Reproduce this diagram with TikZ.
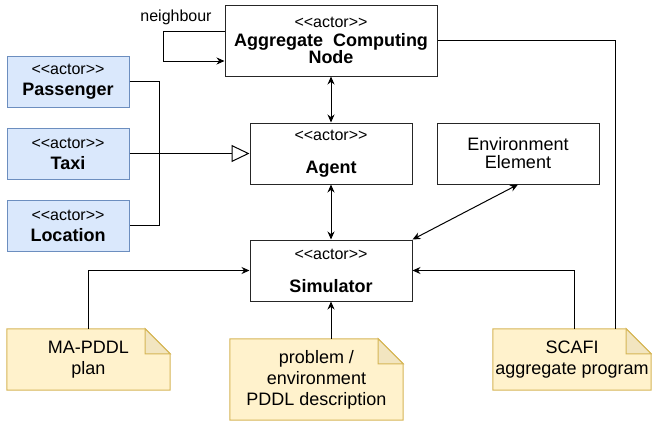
\documentclass[tikz,border=0pt]{standalone}
\usepackage{fontspec}
\setmainfont{Liberation Sans}
\usepackage{tikz}
\usetikzlibrary{arrows,arrows.meta,positioning,backgrounds}
\definecolor{blueFill}{RGB}{218,232,252}
\definecolor{blueLine}{RGB}{108,142,191}
\definecolor{noteFill}{RGB}{255,242,204}
\definecolor{noteLine}{RGB}{214,182,86}
\definecolor{noteFold}{RGB}{242,229,192}
\newcommand{\actortag}{{\fontsize{16}{19}\selectfont <\kern0pt<actor>\kern0pt>}}
\tikzstyle{actor} = [rectangle, draw=black!85, line width=1pt, fill=white, align=center, inner sep=0pt, font=\fontsize{18}{21}\selectfont]
\tikzstyle{bigactor} = [actor, minimum width=162pt, minimum height=61pt]
\tikzstyle{blueactor} = [actor, draw=blueLine, fill=blueFill, minimum width=122pt, minimum height=51pt]
\tikzstyle{note} = [draw=none, fill=none, align=center, inner sep=0pt, font=\fontsize{18}{21}\selectfont]
\tikzstyle{notebg} = [fill=noteFill, draw=noteLine, line width=1pt]
\tikzstyle{textonly} = [draw=none, fill=none, inner sep=0pt, font=\fontsize{16}{19}\selectfont]
\tikzstyle{tedge}  = [draw, line width=1pt, >={Stealth[length=8pt,width=7pt]}, ->]
\tikzstyle{dedge}  = [tedge, <->]
\tikzstyle{nedge}  = [draw, line width=1pt]
\tikzstyle{iedge}  = [draw, line width=1pt, -{Triangle[open,length=18pt,width=17pt]}]

\begin{document}
\begin{tikzpicture}[x=1pt, y=-1pt]
\useasboundingbox (0,0) rectangle (652,423);
%actors=============================

\node[actor, minimum width=212pt, minimum height=71pt] (acn) at (331,40.5) {\actortag\\[-2pt]\textbf{Aggregate\ \ Computing}\\[-4pt]\textbf{Node}};
\node[textonly] (nb) at (176,17) {neighbour};
\node[bigactor, below=46pt of acn] (agent) {\actortag\\[12pt]\textbf{Agent}};
\node[bigactor, right=24pt of agent] (env) {Environment\\[-3pt]Element};
\node[bigactor, below=55pt of agent] (sim) {\actortag\\[12pt]\textbf{Simulator}};

\node[blueactor] (passenger) at (68,81.5) {\actortag\\\textbf{Passenger}};
\node[blueactor, below=20pt of passenger] (taxi) {\actortag\\\textbf{Taxi}};
\node[blueactor, below=20pt of taxi] (location) {\actortag\\\textbf{Location}};

% notes
\node[note, minimum width=163pt, minimum height=61pt] (plan) at (88.5,359.5) {MA-PDDL\\plan};
\node[note, minimum width=173pt, minimum height=81pt] (problem) at (316.5,379.5) {problem /\\environment\\PDDL description};
\node[note, minimum width=158pt, minimum height=61pt] (scafi) at (572,359.5) {SCAFI\\aggregate program};

\begin{scope}[on background layer]
\foreach \n in {plan,problem,scafi}{
  \path[notebg] (\n.north west) -- ([xshift=-25pt]\n.north east) -- ([yshift=-25pt]\n.north east) -- (\n.south east) -- (\n.south west) -- cycle;
  \path[notebg, fill=noteFold] ([xshift=-25pt]\n.north east) -- ([xshift=-25pt,yshift=-25pt]\n.north east) -- ([yshift=-25pt]\n.north east) -- cycle;
}
\end{scope}

% edges
\path[tedge] ([yshift=9.5pt]acn.west) -- ++(-61pt,0pt) |- ([yshift=-20.5pt]acn.west);
\path[dedge] (acn.south) -- (acn.south |- agent.north);
\path[dedge] (agent.south) -- (sim.north);
\path[dedge] (env.south) -- (sim.north east);
\coordinate (join) at ([xshift=30pt]taxi.east);
\path[nedge] (passenger.east) -| (join) |- (location.east);
\path[iedge] (taxi.east) -- (agent.west);
\path[tedge] (plan.north) |- (sim.west);
\path[tedge] (sim.south |- problem.north) -- (sim.south);
\path[tedge] ([xshift=2pt]scafi.north) |- (sim.east);
\path[nedge] ([xshift=43pt]scafi.north) |- (acn.east);

\end{tikzpicture}
\end{document}
